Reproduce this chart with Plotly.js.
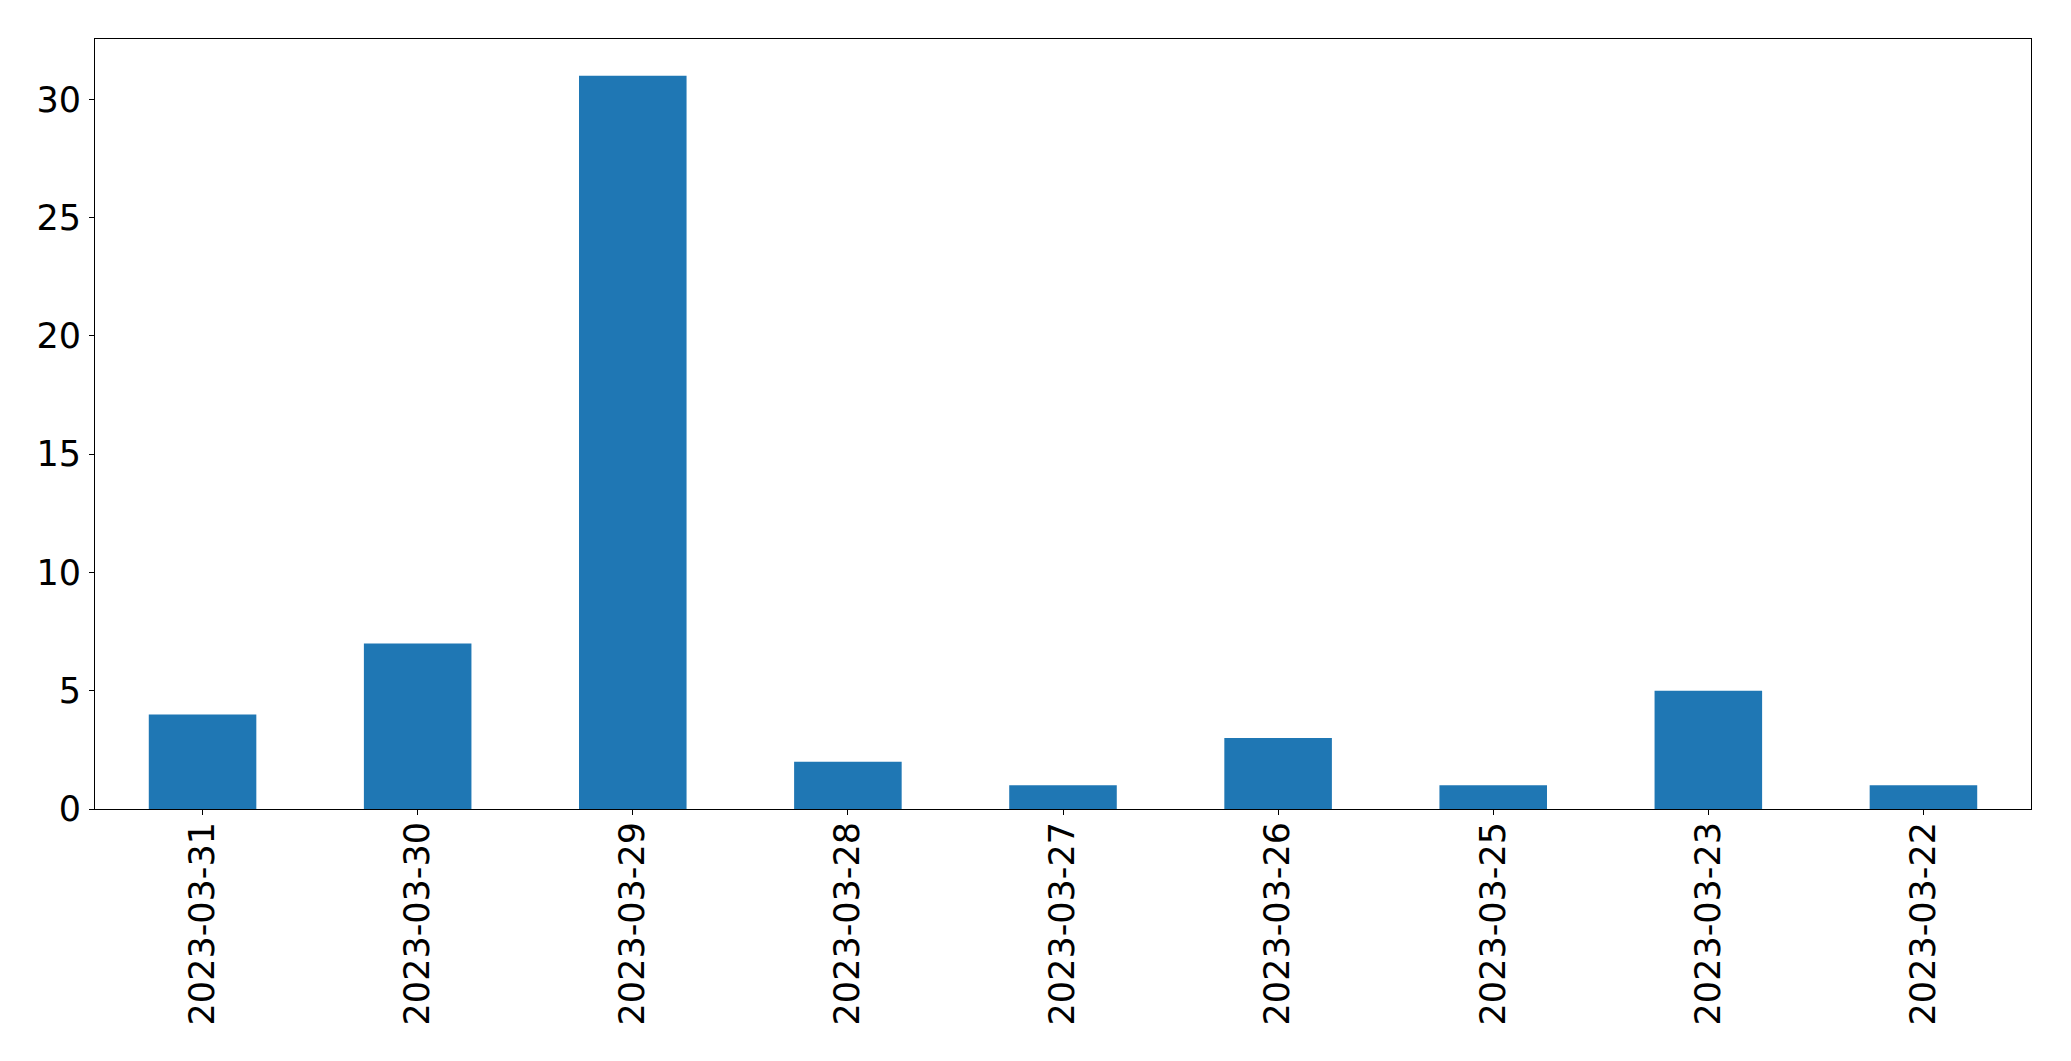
<!DOCTYPE html>
<html>
<head>
<meta charset="utf-8">
<script src="https://cdn.plot.ly/plotly-3.0.1.min.js"></script>
<style>
  body { margin: 0; background: #fff; }
</style>
</head>
<body>
<div id="chart" style="width:2071px;height:1061px;"></div>
<script>
// daily counts, in the order the bars appear
const dates = [
  "2023-03-31", "2023-03-30", "2023-03-29", "2023-03-28", "2023-03-27",
  "2023-03-26", "2023-03-25", "2023-03-23", "2023-03-22",
]
const counts = [4, 7, 31, 2, 1, 3, 1, 5, 1]
const yTicks = [0, 5, 10, 15, 20, 25, 30]

const font = { family: "DejaVu Sans", size: 35, color: "#000" }

const data = [
  {
    type: "bar",
    x: dates,
    y: counts,
    width: 0.5,
    marker: { color: "#1f77b4", line: { width: 0 } },
    hoverinfo: "x+y",
  },
]

const layout = {
  width: 2071,
  height: 1061,
  margin: { l: 95, r: 40, t: 39, b: 252 },
  paper_bgcolor: "#fff",
  plot_bgcolor: "#fff",
  showlegend: false,
  font: font,
  xaxis: {
    type: "category",
    range: [-0.5, dates.length - 0.5],
    tickangle: -90,
    ticks: "outside",
    ticklen: 5,
    tickwidth: 1,
    tickcolor: "#000",
    ticklabelstandoff: -7,
    showline: true,
    linecolor: "#000",
    linewidth: 1,
    mirror: true,
    showgrid: false,
    zeroline: false,
    tickfont: font,
  },
  yaxis: {
    range: [0, 32.55],
    tickvals: yTicks,
    ticktext: yTicks.map(String),
    ticks: "outside",
    ticklen: 5,
    tickwidth: 1,
    tickcolor: "#000",
    ticklabelstandoff: 1,
    showline: true,
    linecolor: "#000",
    linewidth: 1,
    mirror: true,
    showgrid: false,
    zeroline: false,
    tickfont: font,
  },
}

Plotly.newPlot("chart", data, layout, { displayModeBar: false, staticPlot: true })
</script>
</body>
</html>
